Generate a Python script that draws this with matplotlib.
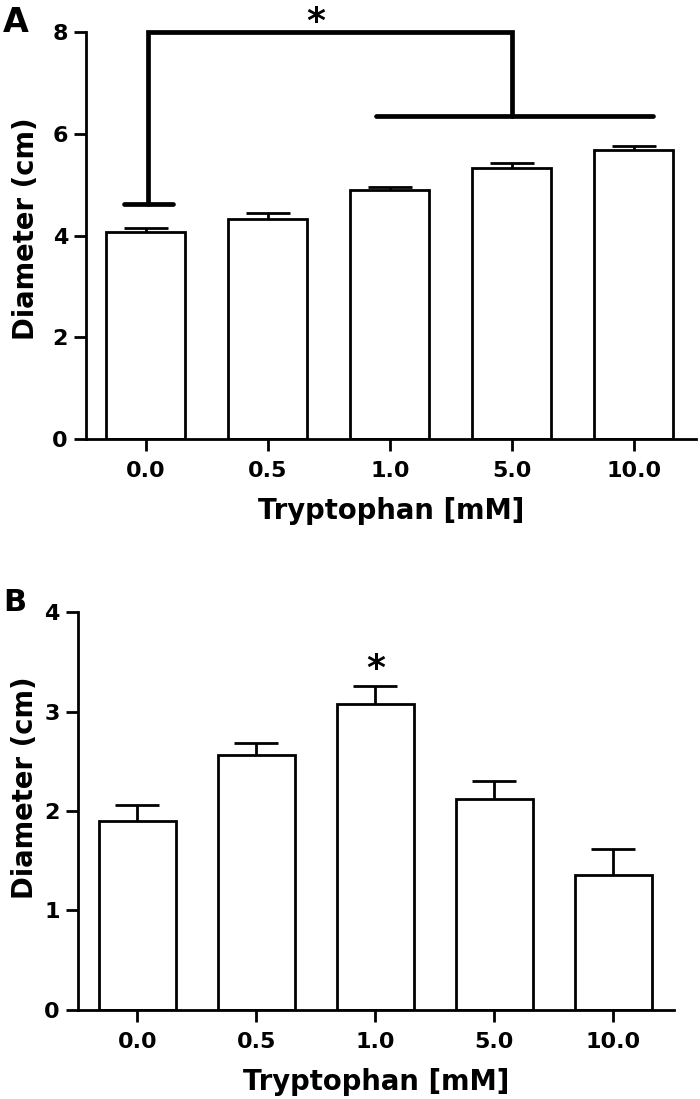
import matplotlib.pyplot as plt
import numpy as np

plt.rcParams['font.family'] = ['DejaVu Sans']
plt.rcParams['font.weight'] = 'bold'

# Tryptophan concentrations (x categories)
conc_labels = ["0.0", "0.5", "1.0", "5.0", "10.0"]

# panel A: colony diameter (cm), mean and upper SEM
diam_a = [4.08, 4.32, 4.89, 5.33, 5.69]
err_a = [0.06, 0.12, 0.06, 0.09, 0.07]

# panel B
diam_b = [1.90, 2.56, 3.08, 2.12, 1.36]
err_b = [0.16, 0.12, 0.18, 0.18, 0.26]

# significance bracket for panel A (data units)
brk_top = 8.0
brk_low = 6.36
brk_ctrl = 4.62
brk_left_x = 0.02
brk_right_x = 3.0
brk_group = (1.89, 4.16)

LW = 2.0


def draw_panel(ax, vals, errs, ymax, yticks, xlim):
    x = np.arange(len(vals))
    ax.bar(x, vals, width=0.65, color='white', edgecolor='black',
           linewidth=LW, zorder=2)
    eb = ax.errorbar(x, vals, yerr=[np.zeros(len(errs)), errs], fmt='none',
                     ecolor='black', elinewidth=LW, capsize=15.5,
                     capthick=LW, zorder=3)
    eb[1][0].set_visible(False)  # only upper caps

    ax.set_xlim(*xlim)
    ax.set_ylim(0, ymax)
    ax.set_xticks(x)
    ax.set_xticklabels(conc_labels)
    ax.set_yticks(yticks)
    ax.set_yticklabels([str(t) for t in yticks])
    for s in ['top', 'right']:
        ax.spines[s].set_visible(False)
    for s in ['left', 'bottom']:
        ax.spines[s].set_linewidth(LW)
    ax.tick_params(axis='both', length=8.5, width=LW, labelsize=16)
    ax.tick_params(axis='x', pad=7)
    ax.tick_params(axis='y', pad=4.5)
    ax.set_xlabel("Tryptophan [mM]", fontsize=19.8, fontweight='bold')
    ax.set_ylabel("Diameter (cm)", fontsize=19.8, fontweight='bold')
    return x


fig = plt.figure(figsize=(7.0, 10.99), dpi=100)

# ---- panel A ----
axA = fig.add_axes([0.1229, 0.6005, 0.8714, 0.3703])
draw_panel(axA, diam_a, err_a, 8, [0, 2, 4, 6, 8], (-0.49, 4.51))
axA.yaxis.set_label_coords(-0.076, 0.516)
axA.xaxis.set_label_coords(0.5, -0.143)

bk = dict(color='black', lw=3.4, solid_capstyle='round',
          solid_joinstyle='miter', clip_on=False, zorder=4)
axA.plot([brk_left_x, brk_left_x, brk_right_x, brk_right_x],
         [brk_ctrl, brk_top, brk_top, brk_low], **bk)
axA.plot(list(brk_group), [brk_low, brk_low], **bk)
axA.plot([brk_left_x - 0.2, brk_left_x + 0.2], [brk_ctrl, brk_ctrl], **bk)
axA.text(1.39, brk_top, "*", fontsize=26, ha='center', va='baseline',
         fontweight='bold', clip_on=False)

# ---- panel B ----
axB = fig.add_axes([0.1114, 0.0810, 0.8514, 0.3621])
xb = draw_panel(axB, diam_b, err_b, 4, [0, 1, 2, 3, 4], (-0.5, 4.51))
axB.yaxis.set_label_coords(-0.0646, 0.558)
axB.xaxis.set_label_coords(0.5, -0.146)
axB.text(xb[2], diam_b[2] + err_b[2] + 0.07, "*", fontsize=26,
         ha='center', va='baseline', fontweight='bold')

fig.text(3 / 700, 1 - 32 / 1099, "A", fontsize=24, fontweight='bold',
         ha='left', va='baseline')
fig.text(3 / 700, 1 - 611 / 1099, "B", fontsize=22, fontweight='bold',
         ha='left', va='baseline')

fig.savefig("out.png", dpi=100)
